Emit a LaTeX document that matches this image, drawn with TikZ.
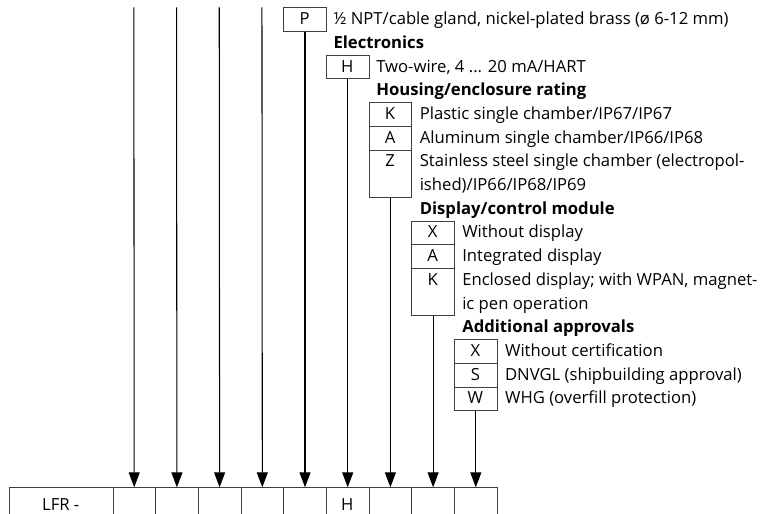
\documentclass[tikz,border=0pt]{standalone}
\usepackage{fontspec}
\setmainfont{Open Sans}
\usetikzlibrary{arrows.meta}
\tikzset{
  x=0.75pt, y=-0.75pt,
  codebox/.style={draw=black!75, line width=0.55pt, minimum width=32.025pt, minimum height=17.775pt, inner sep=0pt, anchor=north west},
  tallbox/.style={codebox, minimum height=35.55pt},
  cell/.style={draw=black!75, line width=0.55pt, minimum width=32.025pt, minimum height=24pt, inner sep=0pt, anchor=north west},
  code/.style={anchor=base, inner sep=0pt, font=\fontsize{12.5}{15}\selectfont},
  desc/.style={anchor=base west, inner sep=0pt, font=\fontsize{12.5}{15}\selectfont},
  head/.style={anchor=base west, inner sep=0pt, font=\fontsize{12.5}{15}\selectfont\bfseries},
  arr/.style={line width=0.8pt, -{Triangle[width=8.25pt,length=11.25pt]}},
}
\begin{document}
\begin{tikzpicture}
\useasboundingbox (0,0) rectangle (761,514);
% bottom row
\node[cell, minimum width=77.625pt] (b0) at (9,487.3) {};
\node[cell] (b1) at (112.5,487.3) {};
\node[cell] (b2) at (155.2,487.3) {};
\node[cell] (b3) at (197.9,487.3) {};
\node[cell] (b4) at (240.6,487.3) {};
\node[cell] (b5) at (283.3,487.3) {};
\node[cell] (b6) at (326.0,487.3) {};
\node[cell] (b7) at (368.7,487.3) {};
\node[cell] (b8) at (411.4,487.3) {};
\node[cell] (b9) at (454.1,487.3) {};
\node[code] (lfr) at (60.75,510) {LFR -};
\node[code] (bh) at (347.35,510) {H};
% free top ends
\coordinate (t1) at (133.85,7.3);
\coordinate (t2) at (176.55,7.3);
\coordinate (t3) at (219.25,7.3);
\coordinate (t4) at (261.95,7.3);
% P row
\node[codebox] (p) at (283.3,7.3) {};
\node[code] (pl) at (304.65,24.6) {P};
\node[desc] (pd) at (333.3,24.6) {½ NPT/cable gland, nickel-plated brass (ø 6-12 mm)};
\node[head] (h1) at (333.3,48.3) {Electronics};
% H row
\node[codebox] (h) at (326.0,54.7) {};
\node[code] (hl) at (347.35,72.0) {H};
\node[desc] (hd) at (376.0,72.0) {Two-wire, 4 ... 20 mA/HART};
\node[head] (h2) at (376.0,95.7) {Housing/enclosure rating};
% housing
\node[codebox] (hk) at (368.7,102.1) {};
\node[codebox] (ha) at (368.7,125.8) {};
\node[tallbox] (hz) at (368.7,149.5) {};
\node[code] (hkl) at (390.05,119.4) {K};
\node[code] (hal) at (390.05,143.1) {A};
\node[code] (hzl) at (390.05,166.8) {Z};
\node[desc] (hkd) at (419.5,119.4) {Plastic single chamber/IP67/IP67};
\node[desc] (had) at (419.5,143.1) {Aluminum single chamber/IP66/IP68};
\node[desc] (hzd) at (419.5,166.8) {Stainless steel single chamber (electropol-};
\node[desc] (hzd2) at (419.5,190.5) {ished)/IP66/IP68/IP69};
\node[head] (h3) at (419.5,214.2) {Display/control module};
% display
\node[codebox] (dx) at (411.4,220.6) {};
\node[codebox] (da) at (411.4,244.3) {};
\node[tallbox] (dk) at (411.4,268.0) {};
\node[code] (dxl) at (432.75,237.9) {X};
\node[code] (dal) at (432.75,261.6) {A};
\node[code] (dkl) at (432.75,285.3) {K};
\node[desc] (dxd) at (462.0,237.9) {Without display};
\node[desc] (dad) at (462.0,261.6) {Integrated display};
\node[desc] (dkd) at (462.0,285.3) {Enclosed display; with WPAN, magnet-};
\node[desc] (dkd2) at (462.0,309.0) {ic pen operation};
\node[head] (h4) at (462.0,332.7) {Additional approvals};
% approvals
\node[codebox] (ax) at (454.1,339.1) {};
\node[codebox] (as) at (454.1,362.8) {};
\node[codebox] (aw) at (454.1,386.5) {};
\node[code] (axl) at (475.45,356.4) {X};
\node[code] (asl) at (475.45,380.1) {S};
\node[code] (awl) at (475.45,403.8) {W};
\node[desc] (axd) at (504.8,356.4) {Without certification};
\node[desc] (asd) at (504.8,380.1) {DNVGL (shipbuilding approval)};
\node[desc] (awd) at (504.8,403.8) {WHG (overfill protection)};
% connectors
\draw[arr] (t1) -- (b1.north);
\draw[arr] (t2) -- (b2.north);
\draw[arr] (t3) -- (b3.north);
\draw[arr] (t4) -- (b4.north);
\draw[arr] (p.south) -- (b5.north);
\draw[arr] (h.south) -- (b6.north);
\draw[arr] (hz.south) -- (b7.north);
\draw[arr] (dk.south) -- (b8.north);
\draw[arr] (aw.south) -- (b9.north);
\end{tikzpicture}
\end{document}
